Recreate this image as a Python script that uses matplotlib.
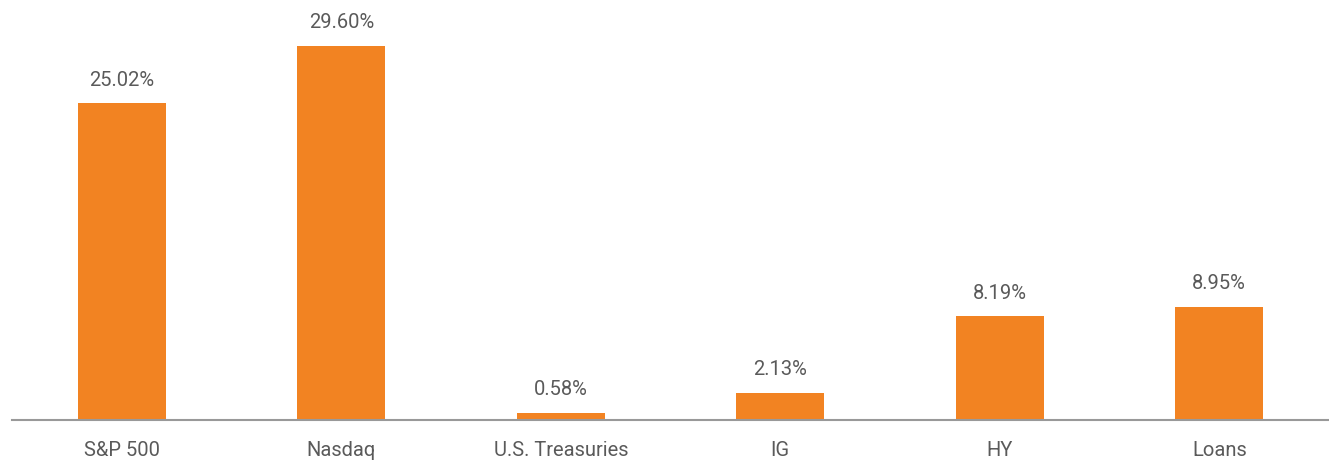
import matplotlib
matplotlib.use("Agg")
import matplotlib.pyplot as plt

plt.rcParams['font.family'] = ['Roboto', 'DejaVu Sans']

categories = ["S&P 500", "Nasdaq", "U.S. Treasuries", "IG", "HY", "Loans"]
returns = [25.02, 29.60, 0.58, 2.13, 8.19, 8.95]

BAR_COLOR = "#F28322"
TEXT_COLOR = "#5a5a5a"

fig = plt.figure(figsize=(13.29, 4.63), dpi=100)
ax = fig.add_axes([12 / 1329, 1 - 420 / 463, 1317 / 1329, 420 / 463])

x = range(len(categories))
bars = ax.bar(x, returns, width=0.4, color=BAR_COLOR)

# value labels above each bar
for b, v in zip(bars, returns):
    ax.annotate(f"{v:.2f}%", (b.get_x() + b.get_width() / 2, v),
                xytext=(0, 10), textcoords="offset points",
                ha="center", va="bottom", fontsize=14.5, color=TEXT_COLOR)

ax.set_xlim(-0.5, 5.5)
ax.set_ylim(0, 33.2)
ax.set_xticks(list(x))
ax.set_xticklabels(categories, fontsize=14.5, color=TEXT_COLOR)
ax.tick_params(axis="x", length=0, pad=15)
ax.set_yticks([])
for s in ["top", "right", "left"]:
    ax.spines[s].set_visible(False)
ax.spines["bottom"].set_color("#999999")
ax.spines["bottom"].set_linewidth(1.5)

fig.savefig("out.png", dpi=100)
